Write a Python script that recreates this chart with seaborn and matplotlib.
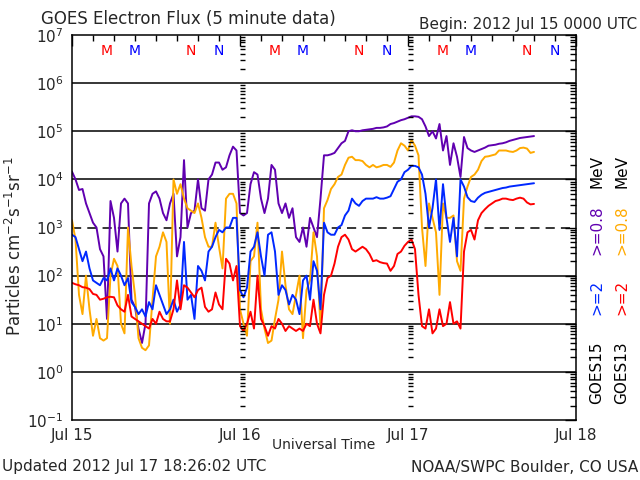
import matplotlib
matplotlib.use("Agg")
import matplotlib.pyplot as plt
from matplotlib import transforms
import numpy as np
import pandas as pd
import seaborn as sns

# --------------------------------------------------------------------------
# data: half-hour readings from 2012 Jul 15 0000 UTC, log10(flux)
# --------------------------------------------------------------------------
hours = np.arange(0, 66.5, 0.5)

g15_08 = [
    4.16, 4.0, 3.78, 3.8, 3.5, 3.3, 3.1, 3.0, 2.55, 2.4, 1.1, 3.55,
    3.2, 2.5, 3.5, 3.6, 3.5, 1.5, 1.35, 0.9, 0.6, 1.0, 3.5, 3.7,
    3.75, 3.6, 3.3, 3.15, 3.5, 3.7, 2.4, 2.8, 4.4, 3.0, 3.3, 3.35,
    4.0, 3.4, 3.35, 4.0, 4.1, 4.35, 4.35, 4.2, 4.25, 4.5, 4.68, 4.6,
    3.3, 3.25, 3.3, 3.9, 4.15, 4.1, 3.6, 3.3, 3.6, 4.3, 4.2, 3.5,
    3.3, 3.5, 3.2, 3.4, 2.8, 2.7, 3.0, 2.6, 3.2, 3.0, 2.8, 3.6,
    4.5, 4.5, 4.52, 4.55, 4.65, 4.75, 4.8, 5.0, 5.02, 5.0, 5.0, 5.02,
    5.03, 5.04, 5.05, 5.07, 5.07, 5.08, 5.1, 5.15, 5.17, 5.2, 5.23, 5.25,
    5.28, 5.31, 5.31, 5.3, 5.25, 5.1, 4.9, 5.0, 4.85, 5.15, 4.6, 4.9,
    4.3, 4.75, 4.47, 4.05, 4.88, 4.65, 4.6, 4.57, 4.6, 4.63, 4.66, 4.7,
    4.71, 4.72, 4.74, 4.75, 4.77, 4.8, 4.82, 4.84, 4.86, 4.87, 4.88, 4.89,
    4.9,
]
g15_2 = [
    2.85, 2.8, 2.55, 2.3, 2.5, 2.15, 1.9, 1.85, 1.8, 1.95, 1.9, 2.15,
    1.9, 2.15, 2.0, 1.8, 1.95, 1.45, 1.35, 1.2, 1.3, 1.15, 1.45, 1.3,
    1.8, 1.6, 1.4, 1.2, 1.3, 1.5, 1.25, 1.4, 2.7, 1.5, 1.6, 1.1,
    2.2, 2.1, 1.9, 2.5, 2.6, 2.8, 2.95, 2.9, 3.0, 3.0, 3.2, 3.2,
    1.7, 1.55, 1.75, 2.5, 2.6, 2.9, 2.4, 2.0, 2.85, 2.9, 2.5, 1.6,
    1.8, 1.7, 1.4, 1.6, 1.5, 1.2, 1.9, 2.0, 1.5, 2.3, 2.1, 1.3,
    3.1, 2.9, 2.85, 2.85, 3.0, 3.05, 3.25, 3.35, 3.6, 3.5, 3.45, 3.55,
    3.6, 3.6, 3.6, 3.63, 3.6, 3.6, 3.62, 3.65, 3.8, 3.95, 4.0, 4.15,
    4.2, 4.28, 4.28, 4.25, 4.1, 3.7, 3.0, 3.4, 4.0, 2.95, 3.9, 3.2,
    2.7, 3.2, 2.4, 4.0, 3.85, 3.63, 3.55, 3.53, 3.62, 3.68, 3.72, 3.74,
    3.76, 3.78, 3.8, 3.82, 3.83, 3.85, 3.86, 3.87, 3.88, 3.89, 3.9, 3.91,
    3.92,
]
g13_08 = [
    3.15, 2.75, 1.6, 1.2, 2.0, 1.3, 0.75, 1.1, 0.7, 0.65, 0.7, 2.0,
    2.35, 2.2, 1.0, 0.8, 3.0, 2.2, 1.6, 0.7, 0.5, 0.45, 0.55, 1.5,
    2.4, 2.6, 2.9, 2.7, 1.0, 4.0, 3.7, 3.9, 3.6, 3.4, 3.35, 3.3,
    3.5, 3.2, 2.8, 2.6, 2.6, 3.1, 2.6, 2.15, 3.6, 3.7, 3.7, 3.5,
    1.3, 1.0, 0.75, 2.3, 2.4, 3.1, 1.3, 0.9, 0.6, 0.65, 1.1, 1.5,
    2.5, 1.8, 1.3, 1.2, 1.6, 2.0, 0.7, 1.7, 1.9, 2.9, 2.4, 0.9,
    3.4, 3.57, 3.8, 3.9, 4.05, 4.1, 4.3, 4.45, 4.47, 4.4, 4.4, 4.38,
    4.3, 4.25, 4.3, 4.25, 4.27, 4.3, 4.3, 4.26, 4.35, 4.6, 4.75, 4.7,
    4.6, 4.82, 4.7, 4.5, 3.0, 2.2, 3.5, 3.2, 2.9, 1.6, 3.5, 3.2,
    3.2, 3.25, 2.3, 2.1, 3.6, 3.85, 4.05, 4.1, 4.2, 4.38, 4.47, 4.48,
    4.5, 4.52, 4.6, 4.6, 4.6, 4.58, 4.57, 4.6, 4.65, 4.66, 4.64, 4.55,
    4.57,
]
g13_2 = [
    1.85, 1.82, 1.8, 1.76, 1.75, 1.72, 1.62, 1.6, 1.5, 1.52, 1.55, 1.56,
    1.55, 1.38, 1.3, 1.25, 1.6, 1.15, 1.1, 1.05, 1.0, 0.95, 0.9, 1.1,
    1.0, 1.25, 1.1, 1.05, 1.05, 1.3, 1.9, 1.3, 1.8, 1.75, 1.65, 1.55,
    1.7, 1.75, 1.35, 1.25, 1.3, 1.65, 1.4, 1.3, 2.35, 2.25, 1.9, 2.2,
    0.95, 0.85, 1.0, 1.25, 0.9, 2.0, 1.1, 0.95, 0.75, 0.95, 0.9, 1.1,
    1.0, 0.85, 0.95, 0.9, 0.85, 0.9, 0.85, 1.0, 0.95, 1.5, 1.0, 0.8,
    1.6, 1.95, 2.0, 2.25, 2.6, 2.8, 2.85, 2.75, 2.55, 2.5, 2.55, 2.6,
    2.55, 2.45, 2.3, 2.32, 2.28, 2.26, 2.25, 2.1, 2.2, 2.45, 2.5, 2.62,
    2.7, 2.75, 2.55, 1.6, 0.95, 0.9, 1.3, 0.8, 0.9, 1.3, 0.95, 1.0,
    1.45, 1.0, 1.05, 0.9, 2.5, 2.9, 2.95, 2.75, 3.15, 3.3, 3.38, 3.45,
    3.5, 3.55, 3.57, 3.6, 3.6, 3.58, 3.57, 3.6, 3.62, 3.6, 3.52, 3.48,
    3.49,
]

series_names = ["G15 >=0.8", "G13 >=0.8", "G15 >=2", "G13 >=2"]
series_colors = ["#6000b0", "#ffaa00", "#0028ff", "#ff0000"]
day_labels = ["Jul 15", "Jul 16", "Jul 17", "Jul 18"]
# local midnight / noon markers (UT hour): GOES13 red, GOES15 blue
mn_marks = [("M", 5, "#ff0000"), ("M", 9, "#0000ff"),
            ("N", 17, "#ff0000"), ("N", 21, "#0000ff")]

frames = []
for name, vals in zip(series_names, [g15_08, g13_08, g15_2, g13_2]):
    frames.append(pd.DataFrame({"day": hours / 24.0,
                                "flux": 10 ** np.array(vals),
                                "series": name}))
df = pd.concat(frames, ignore_index=True)

# --------------------------------------------------------------------------
# plot
# --------------------------------------------------------------------------
sns.set_style("white")
plt.rcParams["font.family"] = ["DejaVu Sans"]

fig = plt.figure(figsize=(6.4, 4.8), dpi=100)
ax = fig.add_axes([72 / 640, 60 / 480, 504 / 640, 385 / 480])
ax.set_yscale("log")

sns.lineplot(data=df, x="day", y="flux", hue="series", hue_order=series_names,
             palette=series_colors, estimator=None, legend=False,
             linewidth=1.4, ax=ax)

ax.set_xlim(0, 3)
ax.set_ylim(1e-1, 1e7)

# horizontal reference lines
for e in [0, 1, 2, 4, 5, 6]:
    ax.axhline(10.0 ** e, color="black", lw=1.1, zorder=1)
ax.axhline(1e3, color="black", lw=1.1, ls=(0, (6, 4)), zorder=1)

# log tick dashes along the day boundaries
minor_vals = [s * 10.0 ** e for e in range(-1, 7) for s in range(2, 10)]
for d in [1, 2]:
    ax.hlines(minor_vals, d, d + 5 / 168, colors="black", lw=1)

# ticks
ax.set_yticks([10.0 ** e for e in range(-1, 8)])
ax.set_yticklabels([f"$10^{{{e}}}$" for e in range(-1, 8)])
ax.yaxis.set_minor_locator(matplotlib.ticker.FixedLocator(minor_vals))
ax.yaxis.set_minor_formatter(matplotlib.ticker.NullFormatter())
ax.set_xticks([0, 1, 2, 3])
ax.set_xticklabels(day_labels)
ax.set_xticks(np.arange(0, 3.01, 0.125), minor=True)
ax.tick_params(which="both", direction="in", top=True, right=True,
               color="black", width=1)
ax.tick_params(which="major", length=8, labelsize=11, pad=6)
ax.tick_params(which="minor", length=4)
ax.set_xlabel("")
ax.set_ylabel("")
for sp in ax.spines.values():
    sp.set_color("black")
    sp.set_linewidth(1.1)

# M / N markers along the top
trans = transforms.blended_transform_factory(ax.transData, ax.transAxes)
for d in range(3):
    for letter, hr, col in mn_marks:
        ax.text(d + hr / 24.0, 0.959, letter, color=col, fontsize=10,
                ha="center", va="center", transform=trans)


def fpos(x, y):
    return x / 640, 1 - y / 480


fig.text(*fpos(41, 19), "GOES Electron Flux (5 minute data)", fontsize=12,
         va="center", ha="left")
fig.text(*fpos(637, 24), "Begin: 2012 Jul 15 0000 UTC", fontsize=11,
         va="center", ha="right")
fig.text(*fpos(15, 246), "Particles cm$^{-2}$s$^{-1}$sr$^{-1}$", fontsize=12,
         rotation=90, va="center", ha="center")
fig.text(*fpos(324, 445), "Universal Time", fontsize=10, va="center",
         ha="center")
fig.text(*fpos(2, 467), "Updated 2012 Jul 17 18:26:02 UTC", fontsize=11,
         va="center", ha="left")
fig.text(*fpos(638, 467), "NOAA/SWPC Boulder, CO USA", fontsize=11,
         va="center", ha="right")

# right-hand legend columns
right_labels = [
    (597, [("MeV", "black", 172), (">=0.8", series_colors[0], 230),
           (">=2", series_colors[2], 297), ("GOES15", "black", 373)]),
    (622, [("MeV", "black", 172), (">=0.8", series_colors[1], 230),
           (">=2", series_colors[3], 297), ("GOES13", "black", 373)]),
]
for xpix, items in right_labels:
    for txt, col, ypix in items:
        fig.text(*fpos(xpix, ypix), txt, color=col, fontsize=11, rotation=90,
                 va="center", ha="center")

fig.savefig("out.png", dpi=100)
